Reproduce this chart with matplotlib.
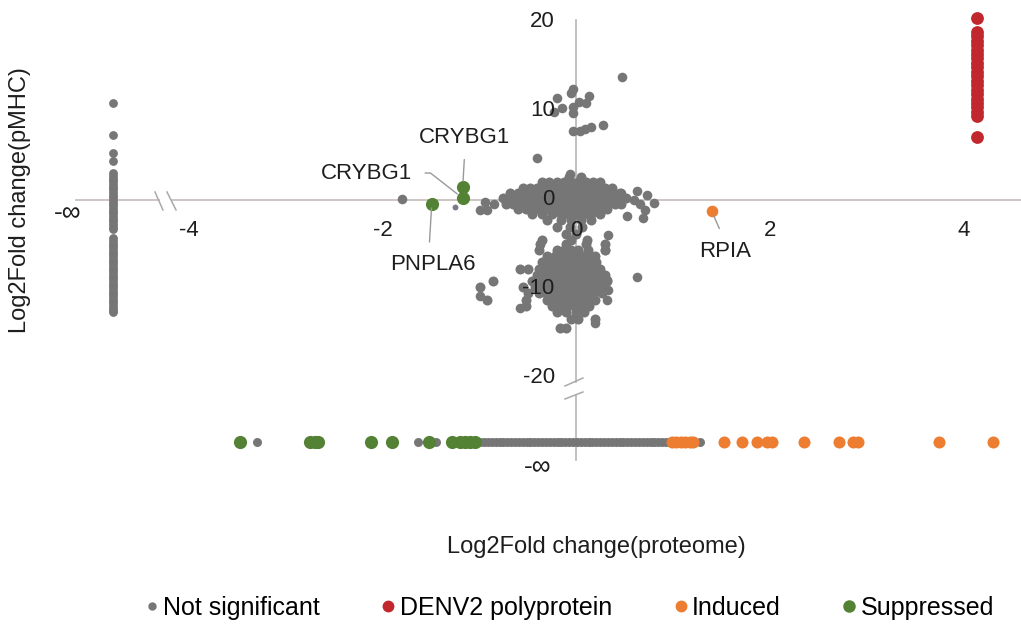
import matplotlib
matplotlib.use("Agg")
import matplotlib.pyplot as plt
from matplotlib.lines import Line2D

plt.rcParams['font.family'] = ['Liberation Sans', 'DejaVu Sans']

# where the "-inf" values are drawn
X_NEG_INF = -4.78
Y_NEG_INF = -27.2

# not significant: dense cluster around y = 0 (rows of points)
upper_row_y = [2.6, 2.0, 1.4, 0.8, 0.2, -0.4, -1.0, -1.6, -2.3, -3.0, -3.8, -4.5]
upper_row_x = [
    [-0.07, 0.05],
    [-0.35, -0.28, -0.2, -0.12, -0.05, 0.02, 0.1, 0.18, 0.25],
    [-0.55, -0.48, -0.4, -0.33, -0.26, -0.19, -0.12, -0.05, 0.02, 0.09, 0.16, 0.23, 0.3, 0.37],
    [-0.68, -0.6, -0.53, -0.46, -0.39, -0.32, -0.25, -0.18, -0.11, -0.04, 0.03, 0.1, 0.17,
     0.24, 0.31, 0.38, 0.45],
    [-0.75, -0.68, -0.61, -0.54, -0.47, -0.4, -0.33, -0.26, -0.19, -0.12, -0.05, 0.02, 0.09,
     0.16, 0.23, 0.3, 0.37, 0.44, 0.52],
    [-0.72, -0.65, -0.58, -0.51, -0.44, -0.37, -0.3, -0.23, -0.16, -0.09, -0.02, 0.05, 0.12,
     0.19, 0.26, 0.33, 0.4, 0.47],
    [-0.6, -0.52, -0.45, -0.38, -0.31, -0.24, -0.17, -0.1, -0.03, 0.04, 0.11, 0.18, 0.25, 0.32],
    [-0.45, -0.35, -0.25, -0.15, -0.08, 0.0, 0.08, 0.16, 0.25],
    [-0.3, -0.15, -0.05, 0.05, 0.15],
    [-0.2, -0.06, 0.06],
    [-0.1, 0.0],
    [-0.35, -0.05, 0.11],
]

# not significant: dense cluster around y = -9
lower_row_y = [-5.0, -5.6, -6.3, -7.0, -7.7, -8.4, -9.1, -9.8, -10.5, -11.2, -11.9, -12.6, -13.4, -14.4]
lower_row_x = [
    [-0.37, -0.1, 0.1, 0.3],
    [-0.38, -0.2, -0.12, -0.05, 0.02, 0.12, 0.3],
    [-0.3, -0.22, -0.15, -0.08, -0.01, 0.06, 0.13, 0.2],
    [-0.35, -0.28, -0.21, -0.14, -0.07, 0.0, 0.07, 0.14, 0.21],
    [-0.58, -0.5, -0.38, -0.31, -0.24, -0.17, -0.1, -0.03, 0.04, 0.11, 0.18, 0.25],
    [-0.4, -0.33, -0.26, -0.19, -0.12, -0.05, 0.02, 0.09, 0.16, 0.23, 0.3],
    [-0.86, -0.45, -0.38, -0.31, -0.24, -0.17, -0.1, -0.03, 0.04, 0.11, 0.18, 0.25, 0.32],
    [-0.99, -0.55, -0.42, -0.35, -0.28, -0.21, -0.14, -0.07, 0.0, 0.07, 0.14, 0.21, 0.3],
    [-0.5, -0.38, -0.31, -0.24, -0.17, -0.1, -0.03, 0.04, 0.11, 0.18, 0.27],
    [-0.92, -0.52, -0.3, -0.23, -0.16, -0.09, -0.02, 0.05, 0.12, 0.2],
    [-0.52, -0.25, -0.15, -0.08, -0.01, 0.06, 0.13],
    [-0.2, -0.1, 0.0, 0.08],
    [-0.05, 0.02, 0.2],
    [-0.17, -0.1],
]

# not significant: scattered points
gray_x = [0.48, -0.03, -0.05, -0.2, 0.03, 0.13, 0.1, -0.14, -0.23, -0.03, -0.03, -0.03, 0.04,
          0.09, 0.15, 0.28, -0.4, -0.06, 0.47, 0.63, 0.73, 0.81, 0.71, 0.69, 0.53, 0.6, 0.66,
          -0.94, -0.99, -0.92, -1.8, -0.85, 0.63, 0.33, 0.3, 0.32, 0.33, 0.32, -0.99, -0.58, 0.2]
gray_y = [13.8, 12.5, 12.0, 11.5, 11.0, 11.7, 10.9, 10.3, 9.9, 10.5, 9.8, 7.8, 7.8,
          8.0, 8.2, 8.4, 4.7, 2.9, 0.8, 1.0, 0.55, -0.3, -1.1, -2.0, -1.8, 0.0, -0.5,
          -0.2, -1.1, -1.1, 0.1, -0.5, -8.6, -3.9, -5.6, -9.0, -10.1, -11.2, -10.8, -12.1, -13.8]
gray_small_x = [-1.25]
gray_small_y = [-0.8]

# not significant: proteome = -inf (column) and pMHC = -inf (row)
gray_col_y = [10.9, 7.3, 5.3, 4.4, 3.0, 2.7, 2.4, 2.1, 1.8, 1.5, 1.2, 0.9, 0.6, 0.3, 0.0,
              -0.3, -0.6, -0.9, -1.2, -1.5, -1.8, -2.1, -2.4, -2.7, -3.0, -3.3,
              -4.3, -4.6, -4.9, -5.2, -5.5, -5.8, -6.1, -6.4, -6.7, -7.0, -7.3, -7.6, -7.9,
              -8.2, -8.5, -8.8, -9.1, -9.4, -9.7, -10.0, -10.3, -10.6, -10.9, -11.2, -11.5,
              -11.8, -12.1, -12.4, -12.6]
gray_row_x = [-3.30, -1.63, -1.45, -0.99, -0.95, -0.91, -0.87, -0.83, -0.79, -0.75, -0.71,
              -0.67, -0.63, -0.59, -0.55, -0.51, -0.47, -0.43, -0.39, -0.35, -0.31, -0.27,
              -0.23, -0.19, -0.15, -0.11, -0.07, -0.03, 0.01, 0.05, 0.09, 0.13, 0.17, 0.21,
              0.25, 0.29, 0.33, 0.37, 0.41, 0.45, 0.49, 0.53, 0.57, 0.61, 0.65, 0.69, 0.73,
              0.77, 0.81, 0.85, 0.89, 0.93, 0.97, 1.01, 1.05, 1.09, 1.13, 1.17, 1.21, 1.28]

# DENV2 polyprotein
denv_x = 4.14
denv_y = [20.5, 18.9, 18.4, 17.9, 17.4, 16.9, 16.4, 15.9, 15.4, 14.9, 14.4, 13.9, 13.4,
          12.9, 12.4, 11.9, 11.4, 10.9, 10.4, 9.9, 9.4, 7.1]

# induced
induced_x = [1.40]
induced_y = [-1.2]
induced_row_x = [0.99, 1.03, 1.08, 1.13, 1.18, 1.21, 1.53, 1.72, 1.87, 1.97, 2.02, 2.36,
                 2.72, 2.86, 2.91, 3.75, 4.31]

# suppressed
suppressed_x = [-1.17, -1.17, -1.49]
suppressed_y = [1.5, 0.2, -0.45]
suppressed_row_x = [-3.47, -2.75, -2.70, -2.67, -2.12, -1.90, -1.52, -1.28, -1.20, -1.15,
                    -1.09, -1.04]

x_ticks = [-4, -2, 0, 2, 4]
y_ticks = [20, 10, 0, -10, -20]

GRAY = '#767676'
RED = '#c0282d'
ORANGE = '#ed7d31'
GREEN = '#548235'
TEXT = '#1e1e1e'

fig = plt.figure(figsize=(10.21, 6.24), dpi=100)
ax = fig.add_axes([0, 0, 1, 1])
ax.set_xlim(-5.95, 4.597)
ax.set_ylim(-47.64, 22.47)
ax.axis('off')

# axes with breaks
ax.plot([-5.165, -4.308], [0, 0], color='#c9bfbf', lw=1.3, zorder=1)
ax.plot([-4.174, 4.597], [0, 0], color='#c9bfbf', lw=1.3, zorder=1)
ax.plot([-4.349, -4.267], [0.9, -1.12], color='#aaaaaa', lw=1.1)
ax.plot([-4.225, -4.132], [0.9, -1.12], color='#aaaaaa', lw=1.1)
ax.plot([0, 0], [20.2, -20.45], color='#b5b5b5', lw=1.2, zorder=1)
ax.plot([0, 0], [-21.9, -29.2], color='#b5b5b5', lw=1.2, zorder=1)
ax.plot([-0.114, 0.072], [-20.9, -20.0], color='#aaaaaa', lw=1.1)
ax.plot([-0.114, 0.072], [-22.36, -21.57], color='#aaaaaa', lw=1.1)

for t in x_ticks:
    ax.text(t, -3.4, str(t), ha='center', va='center', fontsize=16, color=TEXT)
for t in y_ticks:
    ax.text(-0.22, t, str(t), ha='right', va='center', fontsize=16, color=TEXT)
ax.text(-5.248, -1.46, '-∞', ha='center', va='center', fontsize=19, color=TEXT)
ax.text(-0.40, -30.0, '-∞', ha='center', va='center', fontsize=19, color=TEXT)

# not significant
for y, xs in zip(upper_row_y, upper_row_x):
    ax.scatter(xs, [y] * len(xs), s=52, color=GRAY, lw=0, zorder=2)
for y, xs in zip(lower_row_y, lower_row_x):
    ax.scatter(xs, [y] * len(xs), s=52, color=GRAY, lw=0, zorder=2)
ax.scatter(gray_x, gray_y, s=48, color=GRAY, lw=0, zorder=2)
ax.scatter(gray_small_x, gray_small_y, s=18, color='#7a7a8a', lw=0, zorder=2)
ax.scatter([X_NEG_INF] * len(gray_col_y), gray_col_y, s=40, color=GRAY, lw=0, zorder=2)
ax.scatter(gray_row_x, [Y_NEG_INF] * len(gray_row_x), s=42, color=GRAY, lw=0, zorder=2)

# DENV2
ax.scatter([denv_x] * len(denv_y), denv_y, s=85, color=RED, lw=0, zorder=3)

# induced
ax.scatter(induced_x, induced_y, s=70, color=ORANGE, lw=0, zorder=3)
ax.scatter(induced_row_x, [Y_NEG_INF] * len(induced_row_x), s=75, color=ORANGE, lw=0, zorder=3)

# suppressed
ax.scatter(suppressed_x, suppressed_y, s=90, color=GREEN, lw=0, zorder=3)
ax.scatter(suppressed_row_x, [Y_NEG_INF] * len(suppressed_row_x), s=90, color=GREEN, lw=0, zorder=3)

# labels
line = dict(arrowstyle='-', color='#999999', lw=1)
ax.annotate('CRYBG1', xy=(suppressed_x[0], suppressed_y[0]), xytext=(-1.147, 6.97),
            ha='center', va='center', fontsize=16, color=TEXT,
            arrowprops=dict(line, shrinkA=6, shrinkB=4, relpos=(0.5, 0)))
ax.annotate('CRYBG1', xy=(suppressed_x[1], suppressed_y[1]), xytext=(-2.159, 3.03),
            ha='center', va='center', fontsize=16, color=TEXT,
            arrowprops=dict(line, shrinkA=7, shrinkB=5, relpos=(1, 0.5),
                            connectionstyle='angle,angleA=0,angleB=-38,rad=0'))
ax.annotate('PNPLA6', xy=(suppressed_x[2], suppressed_y[2]), xytext=(-1.477, -7.3),
            ha='center', va='center', fontsize=16, color=TEXT,
            arrowprops=dict(line, shrinkA=7, shrinkB=3, relpos=(0.45, 1)))
ax.annotate('RPIA', xy=(induced_x[0], induced_y[0]), xytext=(1.539, -5.84),
            ha='center', va='center', fontsize=16, color=TEXT,
            arrowprops=dict(line, shrinkA=8, shrinkB=4, relpos=(0.5, 1)))

fig.text(20 / 1021, 1 - 200 / 624, 'Log2Fold change(pMHC)', rotation=90,
         ha='center', va='center', fontsize=17, color=TEXT)
fig.text(596 / 1021, 1 - 547 / 624, 'Log2Fold change(proteome)',
         ha='center', va='center', fontsize=17, color=TEXT)

handles = [
    Line2D([], [], marker='o', ls='', color=GRAY, markersize=5, label='Not significant'),
    Line2D([], [], marker='o', ls='', color=RED, markersize=7.5, label='DENV2 polyprotein'),
    Line2D([], [], marker='o', ls='', color=ORANGE, markersize=7.5, label='Induced'),
    Line2D([], [], marker='o', ls='', color=GREEN, markersize=8, label='Suppressed'),
]
fig.legend(handles=handles, loc='center', bbox_to_anchor=(569 / 1021, 1 - 608 / 624),
           ncol=4, frameon=False, fontsize=18, handlelength=0.6, handletextpad=0.15,
           columnspacing=2.45, borderaxespad=0, borderpad=0)

fig.savefig('out.png', dpi=100)
